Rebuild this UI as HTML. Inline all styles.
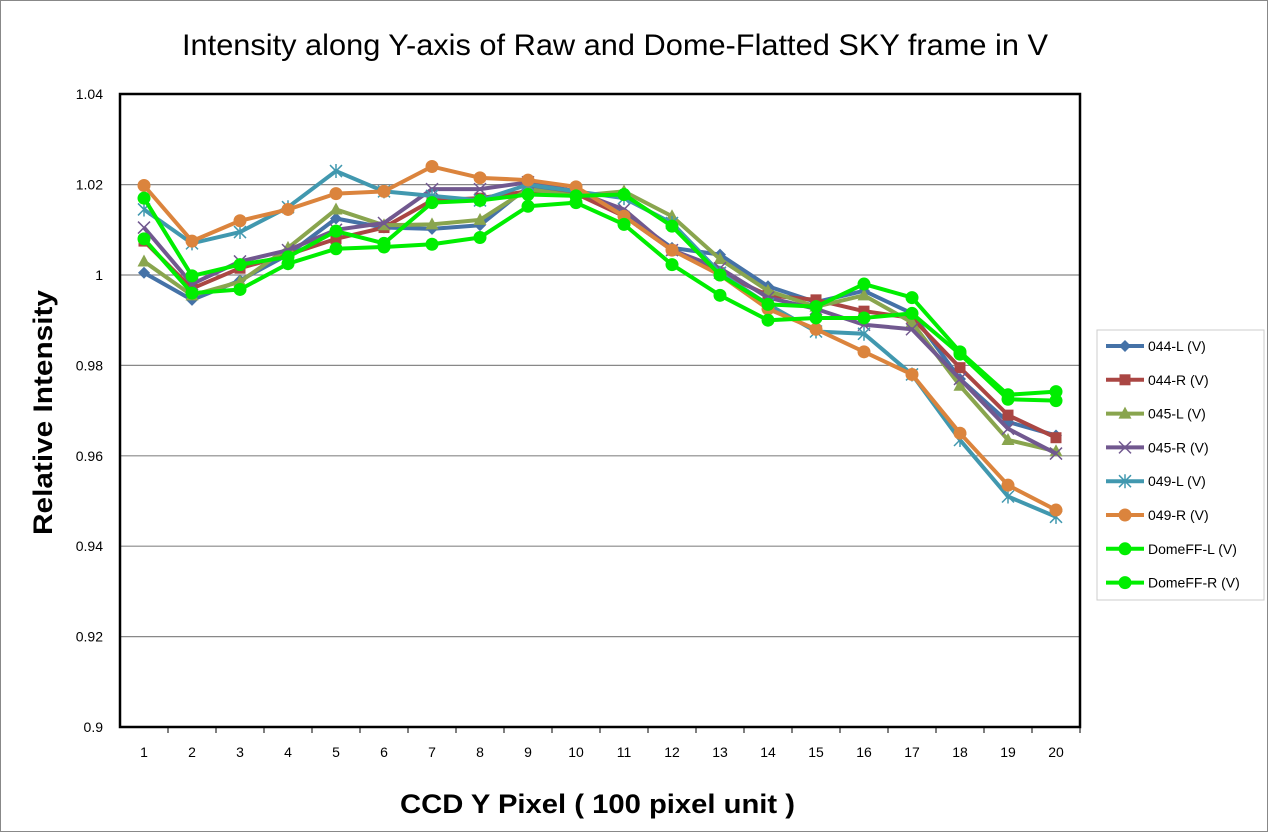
<!DOCTYPE html>
<html><head><meta charset="utf-8"><style>
body{margin:0;background:#fff;}
svg text{font-family:"Liberation Sans",sans-serif;}
</style></head><body>
<svg id="s" width="1269" height="833" xmlns="http://www.w3.org/2000/svg">
<rect x="0.5" y="0.5" width="1267" height="831" fill="#fff" stroke="#888"/>
<text x="182" y="55" font-size="30" textLength="866" lengthAdjust="spacingAndGlyphs" fill="#000">Intensity along Y-axis of Raw and Dome-Flatted SKY frame in V</text>
<g id="grid"></g>
<rect x="120" y="94" width="960" height="633" fill="none" stroke="#000" stroke-width="2.5"/>
<text transform="translate(52,535) rotate(-90)" font-size="27" font-weight="bold" textLength="245" lengthAdjust="spacingAndGlyphs">Relative Intensity</text>
<text x="400" y="813" font-size="27" font-weight="bold" textLength="395" lengthAdjust="spacingAndGlyphs">CCD Y Pixel  ( 100 pixel unit )</text>
<g id="series"></g>
<rect x="1097" y="330" width="167" height="270" fill="#fff" stroke="#ccc"/>
<g id="legend"></g>
</svg>
<script>
const ns="http://www.w3.org/2000/svg";
function el(t,a,p){const e=document.createElementNS(ns,t);for(const k in a)e.setAttribute(k,a[k]);p.appendChild(e);return e;}
const g=document.getElementById('grid'),S=document.getElementById('series'),L=document.getElementById('legend');
const Y=v=>275-(v-1)*4520, X=i=>144+i*48;
for(let k=0;k<8;k++){const v=0.9+k*0.02,y=Y(v);
 if(k>0&&k<7)el('line',{x1:120,x2:1080,y1:y,y2:y,stroke:'#888','stroke-width':1.2},g);
 const t=el('text',{x:103,y:y+5,'font-size':14,'text-anchor':'end'},g);t.textContent=(k==0?'0.9':k==5?'1':v.toFixed(2));}
for(let i=0;i<20;i++){el('line',{x1:X(i)+24,x2:X(i)+24,y1:727,y2:733,stroke:'#000'},g);
 const t=el('text',{x:X(i),y:757,'font-size':14,'text-anchor':'middle'},g);t.textContent=i+1;}
const D=[
['044-L (V)','#4572a7','d',[1.0005,.9945,.9988,1.0045,1.0125,1.0105,1.0102,1.011,1.0195,1.018,1.0135,1.006,1.0045,.9975,.994,.9965,.9915,.977,.9675,.9645]],
['044-R (V)','#aa4643','s',[1.0075,.997,1.0015,1.0045,1.008,1.0105,1.0165,1.017,1.0185,1.018,1.013,1.0055,1.0005,.9955,.9945,.992,.9905,.9795,.969,.964]],
['045-L (V)','#89a54e','t',[1.003,.9955,.9985,1.006,1.0145,1.011,1.0112,1.0122,1.019,1.0175,1.0185,1.013,1.0035,.9965,.993,.9955,.9895,.9755,.9635,.961]],
['045-R (V)','#71588f','x',[1.0105,.998,1.003,1.0055,1.01,1.0115,1.019,1.019,1.0205,1.0185,1.0145,1.0055,1.0015,.995,.9925,.989,.988,.977,.966,.9605]],
['049-L (V)','#4198af','a',[1.0145,1.007,1.0095,1.015,1.023,1.0185,1.0175,1.0165,1.02,1.0185,1.017,1.0115,1.0005,.9935,.9875,.987,.978,.9635,.951,.9465]],
['049-R (V)','#db843d','c',[1.0198,1.0075,1.012,1.0145,1.018,1.0185,1.024,1.0215,1.021,1.0195,1.013,1.0055,1.0,.9925,.988,.983,.978,.965,.9535,.948]],
['DomeFF-L (V)','#00ee00','c',[1.017,.9998,1.0023,1.004,1.0097,1.007,1.016,1.0165,1.0178,1.0175,1.0178,1.0108,1.0,.9935,.993,.998,.995,.983,.9735,.9742]],
['DomeFF-R (V)','#00ee00','c',[1.008,.996,.9968,1.0025,1.0058,1.0062,1.0068,1.0083,1.0152,1.016,1.0112,1.0023,.9955,.99,.9905,.9905,.9915,.9825,.9725,.9722]]];
function mk(m,x,y,c,p){
 if(m=='d')el('polygon',{points:`${x},${y-6} ${x+6},${y} ${x},${y+6} ${x-6},${y}`,fill:c},p);
 else if(m=='s')el('rect',{x:x-5.5,y:y-5.5,width:11,height:11,fill:c},p);
 else if(m=='t')el('polygon',{points:`${x},${y-7} ${x+6.5},${y+5} ${x-6.5},${y+5}`,fill:c},p);
 else if(m=='x'){el('path',{d:`M${x-6} ${y-6}L${x+6} ${y+6}M${x-6} ${y+6}L${x+6} ${y-6}`,stroke:c,'stroke-width':1.5},p);}
 else if(m=='a'){el('path',{d:`M${x-6} ${y-6}L${x+6} ${y+6}M${x-6} ${y+6}L${x+6} ${y-6}M${x} ${y-7}L${x} ${y+7}`,stroke:c,'stroke-width':1.5},p);}
 else el('circle',{cx:x,cy:y,r:6.5,fill:c},p);}
D.forEach((s,j)=>{
 el('polyline',{points:s[3].map((v,i)=>X(i)+','+Y(v)).join(' '),fill:'none',stroke:s[1],'stroke-width':4,'stroke-linejoin':'round'},S);
 s[3].forEach((v,i)=>mk(s[2],X(i),Y(v),s[1],S));
 const ly=346+j*33.8;
 el('line',{x1:1106,x2:1144,y1:ly,y2:ly,stroke:s[1],'stroke-width':4},L);
 mk(s[2],1125,ly,s[1],L);
 const t=el('text',{x:1148,y:ly+5,'font-size':14},L);t.textContent=s[0];});
</script>
</body></html>
